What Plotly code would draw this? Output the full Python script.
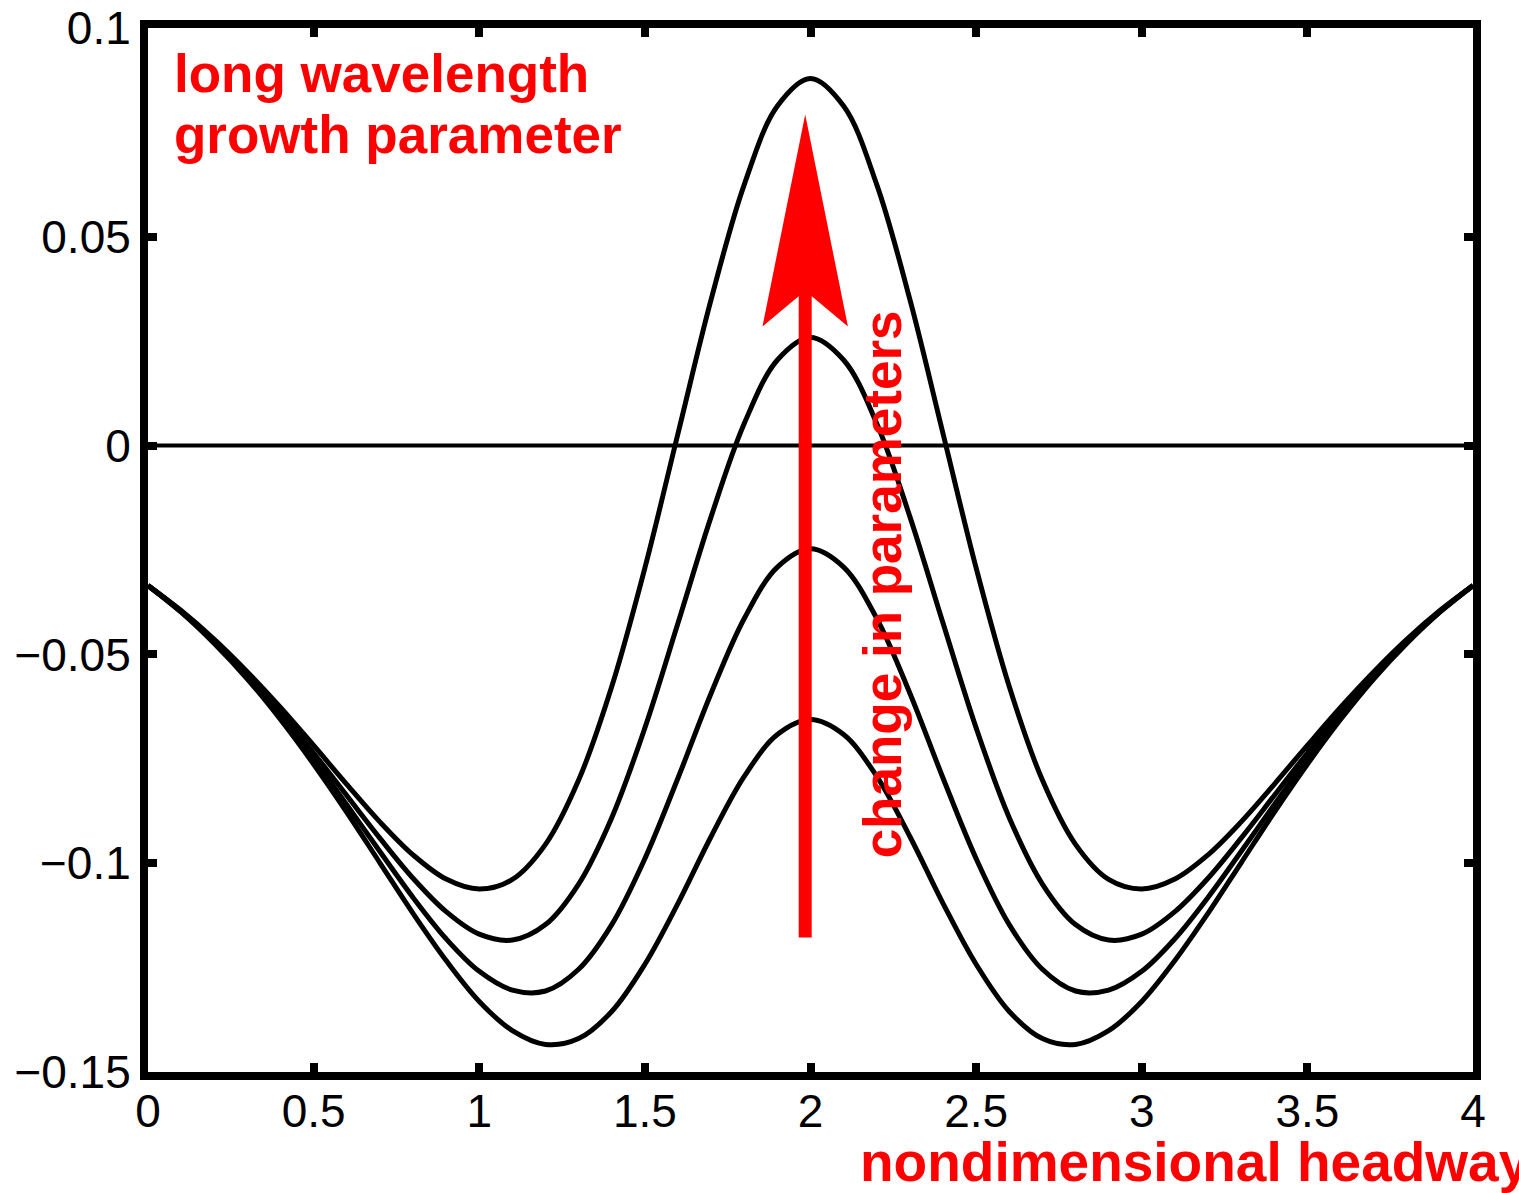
import plotly.graph_objects as go

# nondimensional headway samples
headway = [0.0, 0.1, 0.2, 0.3, 0.4, 0.5, 0.6, 0.7, 0.8, 0.9, 1.0,
           1.1, 1.2, 1.3, 1.4, 1.5, 1.6, 1.7, 1.8, 1.9, 2.0,
           2.1, 2.2, 2.3, 2.4, 2.5, 2.6, 2.7, 2.8, 2.9, 3.0,
           3.1, 3.2, 3.3, 3.4, 3.5, 3.6, 3.7, 3.8, 3.9, 4.0]

# long wavelength growth parameter, four parameter sets (top to bottom)
growth_1 = [-0.0335, -0.0395, -0.0464, -0.0542, -0.0627, -0.0718, -0.0811, -0.0901, -0.0980, -0.1038, -0.1062,
            -0.1039, -0.0955, -0.0801, -0.0577, -0.0293, 0.0029, 0.0350, 0.0625, 0.0813, 0.0879,
            0.0813, 0.0625, 0.0350, 0.0029, -0.0293, -0.0577, -0.0801, -0.0955, -0.1039, -0.1062,
            -0.1038, -0.0980, -0.0901, -0.0811, -0.0718, -0.0627, -0.0542, -0.0464, -0.0395, -0.0335]
growth_2 = [-0.0335, -0.0397, -0.0468, -0.0549, -0.0638, -0.0736, -0.0838, -0.0940, -0.1036, -0.1116, -0.1170,
            -0.1184, -0.1147, -0.1050, -0.0891, -0.0676, -0.0425, -0.0170, 0.0053, 0.0205, 0.0259,
            0.0205, 0.0053, -0.0170, -0.0425, -0.0676, -0.0891, -0.1050, -0.1147, -0.1184, -0.1170,
            -0.1116, -0.1036, -0.0940, -0.0838, -0.0736, -0.0638, -0.0549, -0.0468, -0.0397, -0.0335]
growth_3 = [-0.0335, -0.0398, -0.0471, -0.0554, -0.0648, -0.0750, -0.0860, -0.0972, -0.1082, -0.1181, -0.1259,
            -0.1304, -0.1306, -0.1254, -0.1147, -0.0989, -0.0796, -0.0593, -0.0414, -0.0291, -0.0247,
            -0.0291, -0.0414, -0.0593, -0.0796, -0.0989, -0.1147, -0.1254, -0.1306, -0.1304, -0.1259,
            -0.1181, -0.1082, -0.0972, -0.0860, -0.0750, -0.0648, -0.0554, -0.0471, -0.0398, -0.0335]
growth_4 = [-0.0335, -0.0399, -0.0474, -0.0559, -0.0656, -0.0763, -0.0878, -0.0999, -0.1120, -0.1233, -0.1331,
            -0.1401, -0.1434, -0.1420, -0.1355, -0.1242, -0.1096, -0.0936, -0.0792, -0.0692, -0.0656,
            -0.0692, -0.0792, -0.0936, -0.1096, -0.1242, -0.1355, -0.1420, -0.1434, -0.1401, -0.1331,
            -0.1233, -0.1120, -0.0999, -0.0878, -0.0763, -0.0656, -0.0559, -0.0474, -0.0399, -0.0335]

zero_x = [0, 4]
zero_y = [0, 0]

x_tickvals = [0, 0.5, 1, 1.5, 2, 2.5, 3, 3.5, 4]
x_ticktext = ["0", "0.5", "1", "1.5", "2", "2.5", "3", "3.5", "4"]
y_tickvals = [-0.15, -0.1, -0.05, 0, 0.05, 0.1]
y_ticktext = ["\u22120.15", "\u22120.1", "\u22120.05", "0", "0.05", "0.1"]

FONT = "Liberation Sans, Arial, Helvetica, sans-serif"
RED = "#ff0000"

fig = go.Figure()
fig.add_trace(go.Scatter(x=zero_x, y=zero_y, mode="lines",
                         line=dict(color="black", width=4), showlegend=False))
for g in [growth_1, growth_2, growth_3, growth_4]:
    fig.add_trace(go.Scatter(x=headway, y=g, mode="lines",
                             line=dict(color="black", width=5, shape="spline", smoothing=1.0),
                             showlegend=False))

# red arrow ("change in parameters")
arrow_x = 1.984
fig.add_shape(type="line", x0=arrow_x, x1=arrow_x, y0=-0.1178, y1=0.040,
              line=dict(color=RED, width=13))
fig.add_shape(type="path",
              path=f"M 1.855 0.0285 L {arrow_x} 0.0793 L 2.113 0.0285 L {arrow_x} 0.0371 Z",
              fillcolor=RED, line=dict(color=RED, width=0))

fig.add_annotation(x=0.0735, y=0.0892, xref="x", yref="y", text="<b>long wavelength</b>",
                   showarrow=False, xanchor="left", yanchor="middle",
                   font=dict(family=FONT, size=53, color=RED))
fig.add_annotation(x=0.0735, y=0.0745, xref="x", yref="y", text="<b>growth parameter</b>",
                   showarrow=False, xanchor="left", yanchor="middle",
                   font=dict(family=FONT, size=53, color=RED))
fig.add_annotation(x=2.218, y=-0.0333, xref="x", yref="y", text="<b>change in parameters</b>",
                   showarrow=False, textangle=-90, xanchor="center", yanchor="middle",
                   font=dict(family=FONT, size=53, color=RED))
fig.add_annotation(x=0.5362, y=-0.0862, xref="paper", yref="paper",
                   text="<b>nondimensional headway</b>",
                   showarrow=False, xanchor="left", yanchor="middle",
                   font=dict(family=FONT, size=55, color=RED))

axis_common = dict(showline=True, linewidth=8, linecolor="black", mirror="ticks",
                   ticks="inside", ticklen=9, tickwidth=8, tickcolor="black",
                   showgrid=False, zeroline=False, automargin=False,
                   tickfont=dict(family=FONT, size=46, color="black"))

fig.update_xaxes(range=[0, 4], tickmode="array", tickvals=x_tickvals, ticktext=x_ticktext,
                 ticklabelstandoff=-8, **axis_common)
fig.update_yaxes(range=[-0.15, 0.1], tickmode="array", tickvals=y_tickvals, ticktext=y_ticktext,
                 **axis_common)

fig.update_layout(width=1519, height=1193,
                  margin=dict(l=148, r=46, t=28, b=121, pad=0),
                  paper_bgcolor="white", plot_bgcolor="white",
                  font=dict(family=FONT))

fig.write_html("out.html")
